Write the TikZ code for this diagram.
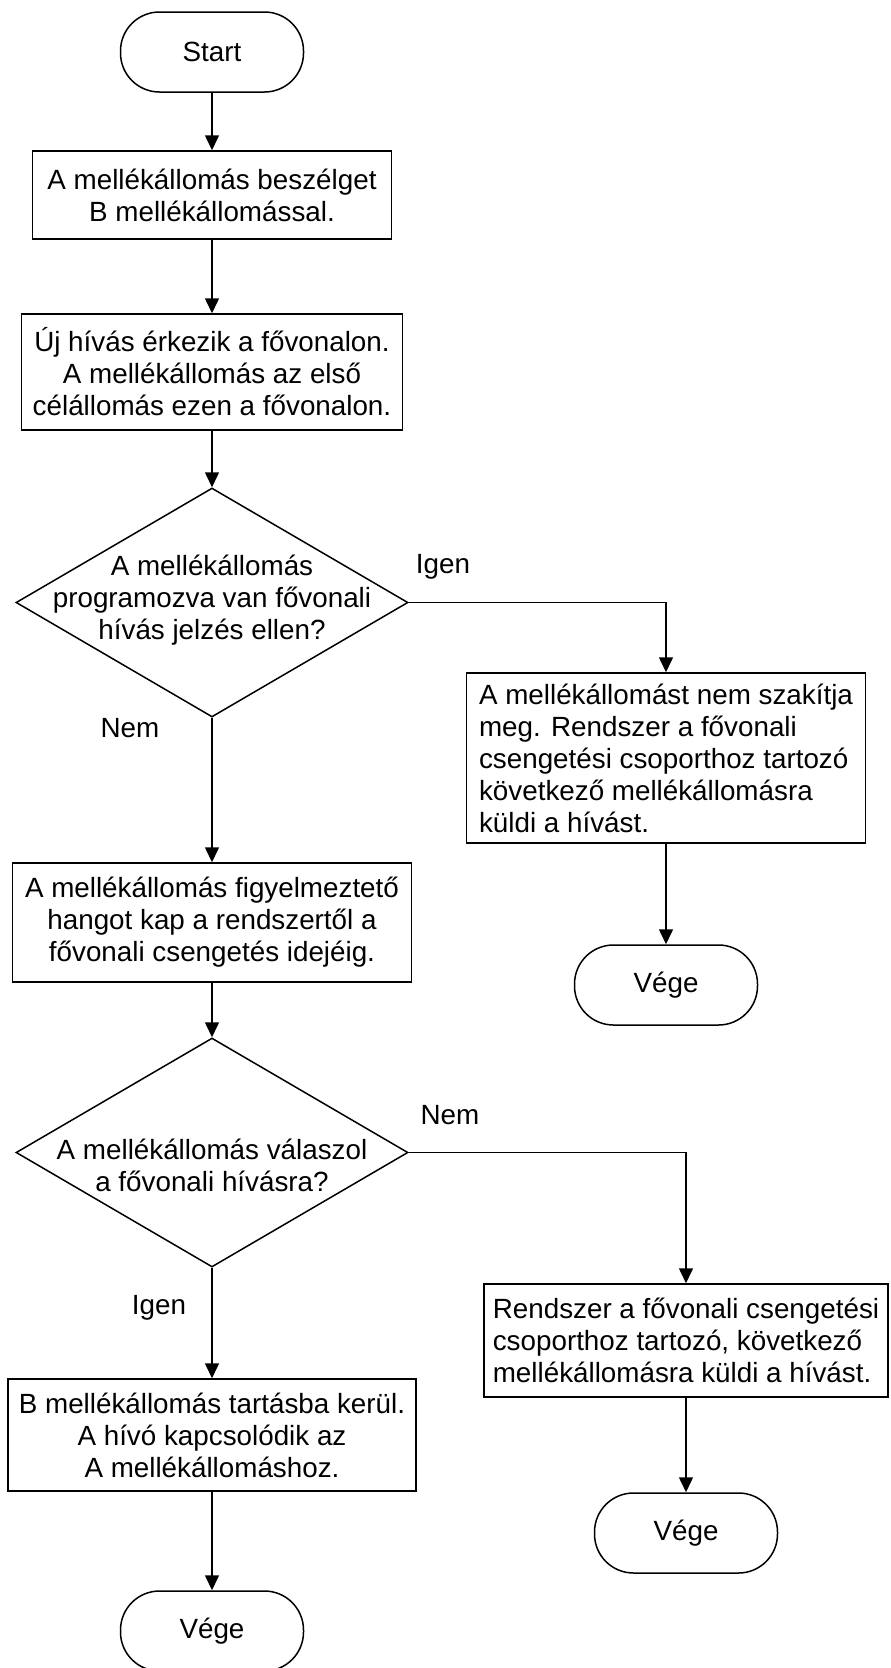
\documentclass[tikz,border=0pt]{standalone}
\usepackage{fontspec}
\setmainfont{Liberation Sans}
\usetikzlibrary{arrows.meta,shapes.geometric}
\begin{document}
\begin{tikzpicture}[x=1pt,y=-1pt,
  every node/.style={font=\fontsize{27.8}{32}\selectfont},
  proc/.style={draw, line width=1.5pt, rectangle, inner sep=0pt, align=center},
  term/.style={draw, line width=1.5pt, rectangle, rounded corners=39pt, inner sep=0pt, minimum width=183pt, minimum height=80pt},
  decis/.style={draw, line width=1.5pt, diamond, inner sep=0pt, minimum width=392pt, minimum height=229pt},
  arr/.style={line width=1.5pt, -{Triangle[length=15pt,width=14pt]}},
  lbl/.style={inner sep=0pt}]
\useasboundingbox (0,0) rectangle (891,1668);
% left column
\node[term] (start) at (212,52) {Start};
\node[proc, minimum width=359pt, minimum height=88pt] (b1) at (212,195) {A mellékállomás beszélget\\B mellékállomással.};
\node[proc, minimum width=381pt, minimum height=116pt] (b2) at (212,372) {Új hívás érkezik a fővonalon.\\A mellékállomás az első\\célállomás ezen a fővonalon.};
\node[decis] (d1) at (212,602.5) {};
\node[align=center, inner sep=0pt] (d1t) at (212,600) {A mellékállomás\\programozva van fővonali\\hívás jelzés ellen?};
\node[proc, minimum width=399pt, minimum height=119pt] (b4) at (212,922.5) {A mellékállomás figyelmeztető\\hangot kap a rendszertől a\\fővonali csengetés idejéig.};
\node[decis] (d2) at (212,1152.5) {};
\node[align=center, inner sep=0pt] (d2t) at (212,1165) {A mellékállomás válaszol\\a fővonali hívásra?};
\node[proc, minimum width=408pt, minimum height=112pt] (b6) at (212,1435) {B mellékállomás tartásba kerül.\\A hívó kapcsolódik az\\A mellékállomáshoz.};
\node[term] (e3) at (212,1631) {Vége};
% right column
\node[proc, align=left, minimum width=399pt, minimum height=170pt] (b3) at (666,758) {A mellékállomást nem szakítja\\meg. Rendszer a fővonali\\csengetési csoporthoz tartozó\\következő mellékállomásra\\küldi a hívást.};
\node[term] (e1) at (666,985) {Vége};
\node[proc, align=left, minimum width=404pt, minimum height=113pt] (b5) at (686,1340.5) {Rendszer a fővonali csengetési\\csoporthoz tartozó, következő\\mellékállomásra küldi a hívást.};
\node[term] (e2) at (686,1533) {Vége};
% labels
\node[lbl] (l1) at (443,567) {Igen};
\node[lbl] (l2) at (130,728) {Nem};
\node[lbl] (l3) at (450,1115) {Nem};
\node[lbl] (l4) at (159,1308) {Igen};
% connectors
\draw[arr] (start) -- (b1);
\draw[arr] (b1) -- (b2);
\draw[arr] (b2) -- (d1);
\draw[arr] (d1.east) -| (b3.north);
\draw[arr] (b3) -- (e1);
\draw[arr] (d1.south) -- (b4.north);
\draw[arr] (b4) -- (d2);
\draw[arr] (d2.east) -| (b5.north);
\draw[arr] (b5) -- (e2);
\draw[arr] (d2.south) -- (b6.north);
\draw[arr] (b6) -- (e3);
\end{tikzpicture}
\end{document}
